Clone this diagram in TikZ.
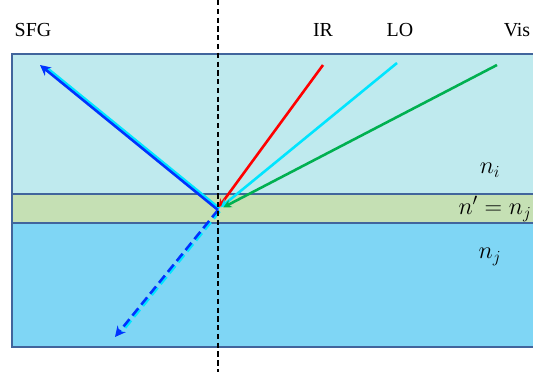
\documentclass[tikz,border=0pt]{standalone}
\usepackage{fontspec}
\setmainfont{Liberation Serif}
\usepackage{tikz}
\usetikzlibrary{arrows.meta, positioning, calc}
\definecolor{bandTop}{HTML}{BFEAEE}
\definecolor{bandMid}{HTML}{C5E0B4}
\definecolor{bandLow}{HTML}{7FD6F5}
\definecolor{bandEdge}{HTML}{41659C}
\definecolor{beamIR}{HTML}{FF0000}
\definecolor{beamLO}{HTML}{00E5FF}
\definecolor{beamVis}{HTML}{00B050}
\definecolor{beamSFG}{HTML}{0033FF}

\begin{document}
\begin{tikzpicture}[
    band/.style={draw=bandEdge, line width=1.1pt},
    label/.style={font=\fontsize{17}{20}\selectfont, inner sep=0pt},
    mathlabel/.style={font=\fontsize{20}{24}\selectfont, inner sep=0pt},
    beam/.style={-{Stealth[length=7pt, width=7pt]}, line width=2.2pt},
    sfgbeam/.style={-{Stealth[length=9pt, width=9pt]}, line width=2.2pt, draw=beamSFG},
    glow/.style={line width=2.2pt, draw=beamLO}
  ]
  \useasboundingbox (0,0) rectangle (15.99,11.16);
  \clip (0,0) rectangle (15.99,11.16);
  % === Layers ===
  \filldraw[band, fill=bandTop] (0.36,5.34) rectangle (16.5,9.54);
  \filldraw[band, fill=bandMid] (0.36,4.47) rectangle (16.5,5.34);
  \filldraw[band, fill=bandLow] (0.36,0.75) rectangle (16.5,4.47);

  % === Beams ===
  \coordinate (focus) at (6.54,4.86);
  \coordinate (irSrc) at (9.69,9.21);
  \coordinate (loSrc) at (11.91,9.27);
  \coordinate (visSrc) at (14.91,9.21);
  \coordinate (sfgOut) at (1.2,9.21);
  \coordinate (sfgIn) at (3.45,1.05);
  \draw[beam, draw=beamIR] (irSrc) -- ($(focus)+(0.02,0.08)$);
  \draw[beam, draw=beamLO] (loSrc) -- ($(focus)+(0.08,0.08)$);
  \draw[beam, draw=beamVis] (visSrc) -- ($(focus)+(0.16,0.08)$);
  \draw[glow, shorten >=6pt] ($(focus)+(0.04,0.05)$) -- ($(sfgOut)+(0.04,0.05)$);
  \draw[sfgbeam] (focus) -- (sfgOut);
  \draw[glow, dash pattern=on 8pt off 4pt, shorten >=6pt] ($(focus)+(0.05,-0.04)$) -- ($(sfgIn)+(0.05,-0.04)$);
  \draw[sfgbeam, dash pattern=on 8pt off 4pt] (focus) -- (sfgIn);

  % === Normal ===
  \coordinate (normTop) at (6.54,11.16);
  \coordinate (normBot) at (6.54,0);
  \draw[black, line width=1.3pt, dash pattern=on 4.5pt off 3pt] (normTop) -- (normBot);

  % === Labels ===
  \node[label] (sfgLabel) at (0.99,10.26) {SFG};
  \node[label] (irLabel) at (9.69,10.26) {IR};
  \node[label] (loLabel) at (12.0,10.26) {LO};
  \node[label] (visLabel) at (15.51,10.26) {Vis};
  \node[mathlabel] (niLabel) at (14.7,6.06) {$n_i$};
  \node[mathlabel] (npLabel) at (14.85,4.89) {$n' = n_j$};
  \node[mathlabel] (njLabel) at (14.7,3.45) {$n_j$};
\end{tikzpicture}
\end{document}
